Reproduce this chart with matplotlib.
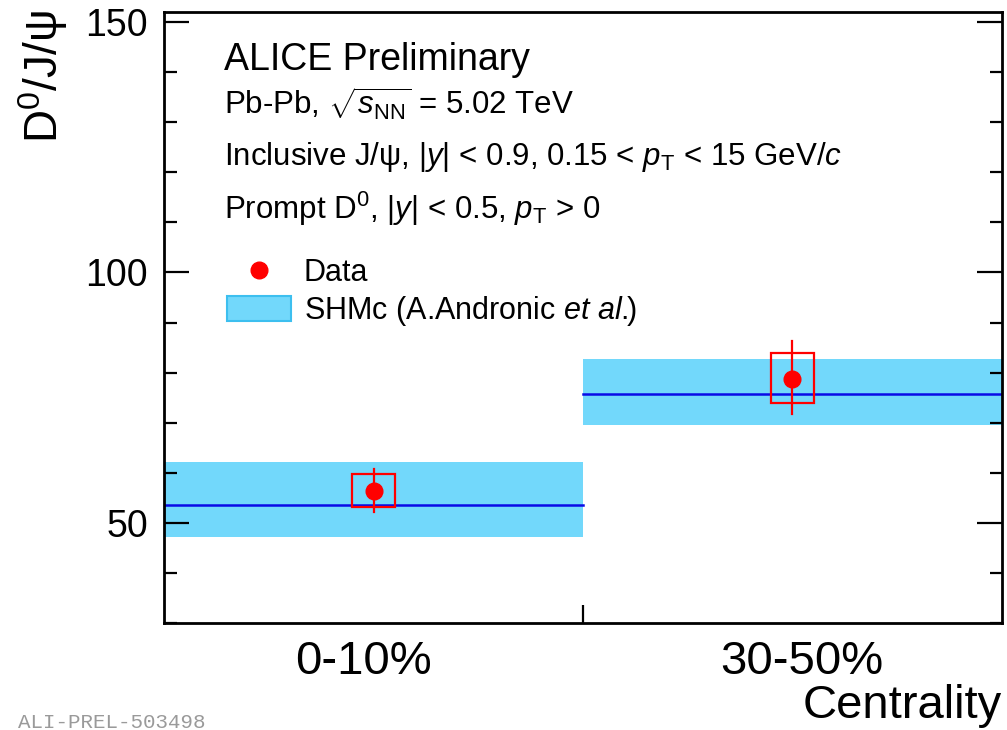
import matplotlib
matplotlib.use("Agg")
import matplotlib.pyplot as plt
import matplotlib.transforms as mtransforms
from matplotlib.patches import Rectangle, FancyBboxPatch
from matplotlib.lines import Line2D
from matplotlib.ticker import MultipleLocator

plt.rcParams["font.family"] = ["Liberation Sans", "DejaVu Sans"]
plt.rcParams["mathtext.fontset"] = "custom"
plt.rcParams["mathtext.rm"] = "Liberation Sans"
plt.rcParams["mathtext.it"] = "Liberation Sans:italic"
plt.rcParams["mathtext.bf"] = "Liberation Sans:bold"
plt.rcParams["mathtext.sf"] = "Liberation Sans"

# Centrality classes (one bin each)
categories = ["0-10%", "30-50%"]
bin_edges = [0, 1, 2]

# Measured D0/(J/psi) ratio
data_value = [56.4, 78.8]
stat_lo = [52.1, 71.7]
stat_hi = [60.7, 86.3]
syst_lo = [53.2, 74.0]
syst_hi = [59.7, 83.9]

# SHMc prediction: central value and band
model_central = [53.6, 75.8]
model_lo = [47.2, 69.5]
model_hi = [62.2, 82.7]

band_color = "#72D8FB"
band_edge = "#3DBFEF"
line_color = "#0A0AE6"
red = "#FF0000"

fig = plt.figure(figsize=(10.07, 7.30), dpi=100)
ax = fig.add_axes([164 / 1007, (730 - 623) / 730, 838 / 1007, 611 / 730])

ax.set_xlim(0, 2)
ax.set_ylim(30, 152)

for i in range(len(categories)):
    x0, x1 = bin_edges[i], bin_edges[i + 1]
    ax.fill_between([x0, x1], [model_lo[i]] * 2, [model_hi[i]] * 2,
                    color=band_color, lw=0, zorder=1)
    ax.plot([x0, x1], [model_central[i]] * 2, color=line_color, lw=1.8, zorder=2)

centers = [0.5 * (bin_edges[i] + bin_edges[i + 1]) for i in range(len(categories))]
box_half = 0.052
for i, xc in enumerate(centers):
    ax.add_patch(Rectangle((xc - box_half, syst_lo[i]), 2 * box_half,
                           syst_hi[i] - syst_lo[i], fill=False,
                           edgecolor=red, lw=1.6, zorder=3))
    ax.plot([xc, xc], [stat_lo[i], stat_hi[i]], color=red, lw=1.6, zorder=4)
ax.plot(centers, data_value, "o", color=red, ms=12, zorder=5)

# axes styling
for sp in ax.spines.values():
    sp.set_linewidth(2.0)
ax.yaxis.set_major_locator(MultipleLocator(50))
ax.yaxis.set_minor_locator(MultipleLocator(10))
ax.tick_params(axis="y", which="major", direction="in", length=18, width=1.6,
               labelsize=27, right=True, pad=11.5)
ax.tick_params(axis="y", which="minor", direction="in", length=9, width=1.6,
               right=True)
ax.set_xticks([1])
ax.set_xticklabels([""])
ax.tick_params(axis="x", which="major", direction="in", length=13, width=1.6)
ax.set_xticks(centers, minor=True)
ax.set_xticklabels(categories, minor=True)
ax.tick_params(axis="x", which="minor", length=0, labelsize=34, pad=12)
shifts = [-10, 9]
for lab, dx in zip(ax.get_xticklabels(minor=True), shifts):
    lab.set_transform(lab.get_transform() +
                      mtransforms.ScaledTranslation(dx / 100, 0, fig.dpi_scale_trans))

ax.set_ylabel(r"D$^{0}$/J/ψ", fontsize=33, loc="top")
ax.yaxis.set_label_coords(-0.112, 1.003)
ax.set_xlabel("Centrality", fontsize=34, loc="right")
ax.xaxis.set_label_coords(1.0, -0.100)

# annotation block
tx = 224 / 1007
fig.text(tx, 1 - 60 / 730, "ALICE Preliminary", fontsize=27, va="center")
fig.text(tx, 1 - 104 / 730, r"Pb-Pb, $\sqrt{s_{\rm NN}}$ = 5.02 TeV",
         fontsize=22.5, va="center")
fig.text(tx, 1 - 157 / 730,
         r"Inclusive J/ψ, |$y$| < 0.9, 0.15 < $p_{\rm T}$ < 15 GeV/$c$",
         fontsize=22.5, va="center")
fig.text(tx, 1 - 209 / 730, r"Prompt D$^{0}$, |$y$| < 0.5, $p_{\rm T}$ > 0",
         fontsize=22.5, va="center")

handles = [
    Line2D([], [], marker="o", color=red, ls="none", ms=12),
    FancyBboxPatch((0, 0), 1, 1, boxstyle="round,pad=0,rounding_size=0.15",
                   facecolor=band_color, edgecolor=band_edge, lw=1.5),
]
leg = ax.legend(handles, ["Data", r"SHMc (A.Andronic $\mathit{et\ al.}\!\!$)"],
                loc="upper left",
                bbox_to_anchor=((227 - 164) / 838, 1 - (258 - 12) / 611),
                frameon=False, fontsize=22, handlelength=2.1, handleheight=0.88,
                handletextpad=0.42, labelspacing=0.2, borderaxespad=0,
                borderpad=0)

fig.text(18 / 1007, 1 - 722 / 730, "ALI-PREL-503498", fontsize=15,
         family="Liberation Mono", color="#9A9A9A", va="center")

fig.savefig("out.png", dpi=100)
